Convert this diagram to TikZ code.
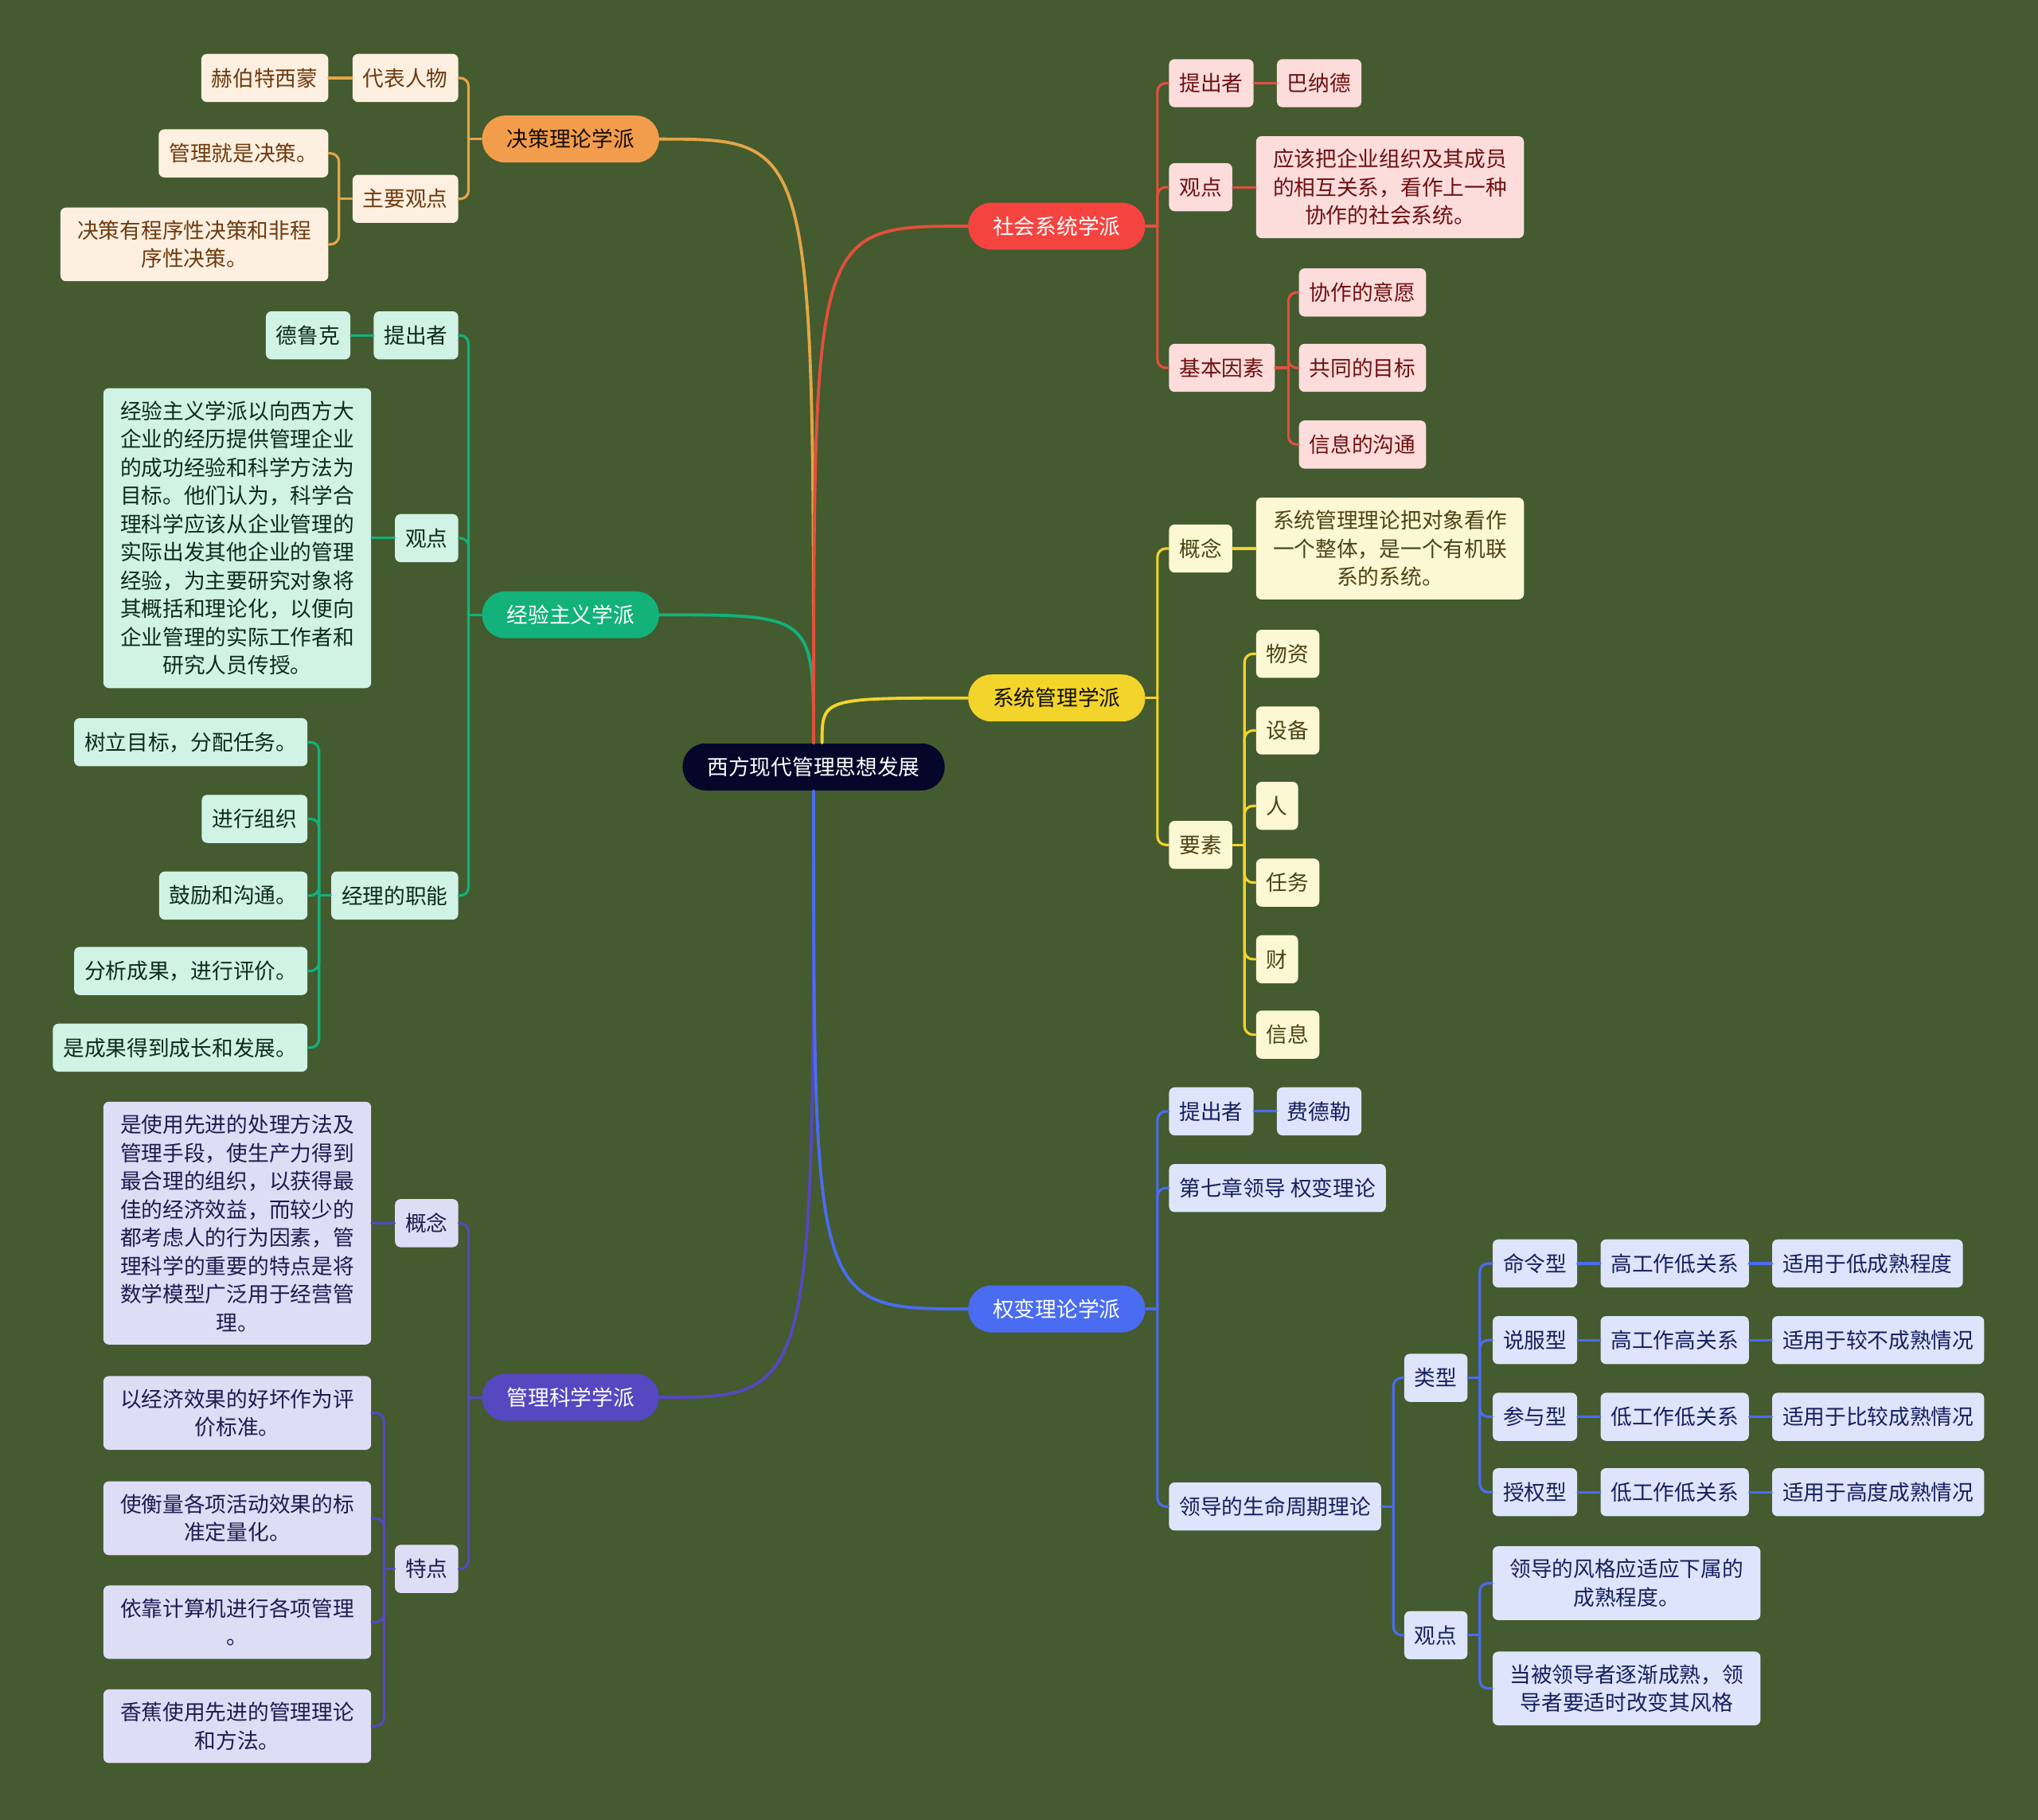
\documentclass[tikz,border=0pt]{standalone}
\usepackage{fontspec}
\setmainfont{Noto Sans CJK SC}
\usepackage{tikz}
\definecolor{mmbg}{HTML}{445A2F}
\definecolor{mmroot}{HTML}{05062A}
\definecolor{mmor}{HTML}{F29D4B}
\definecolor{mmorl}{HTML}{E2A646}
\definecolor{mmorf}{HTML}{FEF0E1}
\definecolor{mmort}{HTML}{6E3A0E}
\definecolor{mmre}{HTML}{F5443F}
\definecolor{mmrel}{HTML}{E2503C}
\definecolor{mmref}{HTML}{FDDCDC}
\definecolor{mmret}{HTML}{6E1010}
\definecolor{mmgr}{HTML}{12B27A}
\definecolor{mmgrf}{HTML}{D0F3E5}
\definecolor{mmgrt}{HTML}{0F2A1E}
\definecolor{mmye}{HTML}{F2D42A}
\definecolor{mmyef}{HTML}{FDF8D4}
\definecolor{mmyet}{HTML}{4D4215}
\definecolor{mmpu}{HTML}{5548C0}
\definecolor{mmpuf}{HTML}{DEDDF6}
\definecolor{mmput}{HTML}{1E1B50}
\definecolor{mmbl}{HTML}{4A6CF0}
\definecolor{mmblf}{HTML}{DDE4FB}
\definecolor{mmblt}{HTML}{152060}

\begin{document}
\begin{tikzpicture}[x=0.01633cm,y=-0.01633cm,
  txt/.style={font=\fontsize{7.6}{10.1}\selectfont},
  pill/.style={txt,rounded corners=0.29cm,minimum height=0.59cm,inner xsep=0.31cm,inner ysep=0pt},
  box/.style={txt,rounded corners=2pt,minimum height=0.604cm,inner xsep=0.13cm,inner ysep=4.6pt,align=center},
  wide/.style={minimum width=3.364cm},
  link/.style={line width=0.9pt,rounded corners=3pt,line cap=round},
  trunk/.style={line width=1.1pt,line cap=round},
  orbox/.style={box,fill=mmorf,text=mmort}, orl/.style={link,draw=mmorl},
  rebox/.style={box,fill=mmref,text=mmret}, rel/.style={link,draw=mmrel},
  grbox/.style={box,fill=mmgrf,text=mmgrt}, grl/.style={link,draw=mmgr},
  yebox/.style={box,fill=mmyef,text=mmyet}, yel/.style={link,draw=mmye},
  pubox/.style={box,fill=mmpuf,text=mmput}, pul/.style={link,draw=mmpu},
  blbox/.style={box,fill=mmblf,text=mmblt}, bll/.style={link,draw=mmbl}]
  \fill[mmbg] (0,0) rectangle (1568,1400);

  % centre and schools
  \node[pill,fill=mmroot,text=white] (root) at (626,590) {西方现代管理思想发展};
  \node[pill,fill=mmor,text=black!80!mmort] (jc) at (439,107) {决策理论学派};
  \node[pill,fill=mmgr,text=white] (jy) at (439,473) {经验主义学派};
  \node[pill,fill=mmpu,text=white] (gk) at (439,1075) {管理科学学派};
  \node[pill,fill=mmre,text=white] (sh) at (813,174) {社会系统学派};
  \node[pill,fill=mmye,text=black!80!mmyet] (xt) at (813,537) {系统管理学派};
  \node[pill,fill=mmbl,text=white] (qb) at (813,1007) {权变理论学派};

  \draw[trunk,mmorl] (root.north) .. controls (root.north |- jc.east) .. (jc.east);
  \draw[trunk,mmgr] (root.north) .. controls (root.north |- jy.east) .. (jy.east);
  \draw[trunk,mmrel] (root.north) .. controls (root.north |- sh.west) .. (sh.west);
  \draw[trunk,mmye] ([xshift=3pt]root.north) .. controls ([xshift=3pt]root.north |- xt.west) .. (xt.west);
  \draw[trunk,mmpu] (root.south) .. controls (root.south |- gk.east) .. (gk.east);
  \draw[trunk,mmbl] (root.south) .. controls (root.south |- qb.west) .. (qb.west);

  % 决策理论学派
  \node[orbox,anchor=east] (jcA) at (353,60) {代表人物};
  \node[orbox,anchor=east] (jcA1) at (253,60) {赫伯特西蒙};
  \node[orbox,anchor=east] (jcB) at (353,153) {主要观点};
  \node[orbox,anchor=east] (jcB1) at (253,118) {管理就是决策。};
  \node[orbox,wide,anchor=east] (jcB2) at (253,188) {决策有程序性决策和非程\\序性决策。};
  \draw[orl] (jc.west) -- ++(-10,0) coordinate (jcb);
  \draw[orl] (jcB.west) -- ++(-10,0) coordinate (jcBb);
  \draw[orl] (jcA.east) -| (jcb);
  \draw[orl] (jcB.east) -| (jcb);
  \draw[orl] (jcA.west) -- (jcA1.east);
  \draw[orl] (jcB1.east) -| (jcBb);
  \draw[orl] (jcB2.east) -| (jcBb);

  % 经验主义学派
  \node[grbox,anchor=east] (jyA) at (353,258) {提出者};
  \node[grbox,anchor=east] (jyA1) at (270,258) {德鲁克};
  \node[grbox,anchor=east] (jyB) at (353,414) {观点};
  \node[grbox,wide,anchor=east] (jyB1) at (286,414) {经验主义学派以向西方大\\企业的经历提供管理企业\\的成功经验和科学方法为\\目标。他们认为，科学合\\理科学应该从企业管理的\\实际出发其他企业的管理\\经验，为主要研究对象将\\其概括和理论化，以便向\\企业管理的实际工作者和\\研究人员传授。};
  \node[grbox,anchor=east] (jyC) at (353,689) {经理的职能};
  \draw[grl] (jy.west) -- ++(-10,0) coordinate (jyb);
  \draw[grl] (jyC.west) -- ++(-9,0) coordinate (jyCb);
  \draw[grl] (jyA.east) -| (jyb);
  \draw[grl] (jyB.east) -| (jyb);
  \draw[grl] (jyC.east) -| (jyb);
  \draw[grl] (jyA.west) -- (jyA1.east);
  \draw[grl] (jyB.west) -- (jyB1.east);
  \foreach \i/\y/\t in {1/571/树立目标，分配任务。,2/630/进行组织,3/689/鼓励和沟通。,4/747/分析成果，进行评价。,5/806/是成果得到成长和发展。}{
    \node[grbox,anchor=east] (jyC\i) at (237,\y) {\t};
    \draw[grl] (jyC\i.east) -| (jyCb);
  }

  % 管理科学学派
  \node[pubox,anchor=east] (gkA) at (353,941) {概念};
  \node[pubox,wide,anchor=east] (gkA1) at (286,941) {是使用先进的处理方法及\\管理手段，使生产力得到\\最合理的组织，以获得最\\佳的经济效益，而较少的\\都考虑人的行为因素，管\\理科学的重要的特点是将\\数学模型广泛用于经营管\\理。};
  \node[pubox,anchor=east] (gkB) at (353,1207) {特点};
  \draw[pul] (gk.west) -- ++(-10,0) coordinate (gkb);
  \draw[pul] (gkB.west) -- ++(-8,0) coordinate (gkBb);
  \draw[pul] (gkA.east) -| (gkb);
  \draw[pul] (gkB.east) -| (gkb);
  \draw[pul] (gkA.west) -- (gkA1.east);
  \foreach \i/\y/\t in {1/1087/以经济效果的好坏作为评\\价标准。,2/1168/使衡量各项活动效果的标\\准定量化。,3/1248/依靠计算机进行各项管理\\。,4/1328/香蕉使用先进的管理理论\\和方法。}{
    \node[pubox,wide,anchor=east] (gkB\i) at (286,\y) {\t};
    \draw[pul] (gkB\i.east) -| (gkBb);
  }

  % 社会系统学派
  \node[rebox,anchor=west] (shA) at (899,64) {提出者};
  \node[rebox,anchor=west] (shA1) at (982,64) {巴纳德};
  \node[rebox,anchor=west] (shB) at (899,144) {观点};
  \node[rebox,wide,anchor=west] (shB1) at (966,144) {应该把企业组织及其成员\\的相互关系，看作上一种\\协作的社会系统。};
  \node[rebox,anchor=west] (shC) at (899,283) {基本因素};
  \draw[rel] (sh.east) -- ++(9,0) coordinate (shb);
  \draw[rel] (shC.east) -- ++(10,0) coordinate (shCb);
  \draw[rel] (shA.west) -| (shb);
  \draw[rel] (shB.west) -| (shb);
  \draw[rel] (shC.west) -| (shb);
  \draw[rel] (shA.east) -- (shA1.west);
  \draw[rel] (shB.east) -- (shB1.west);
  \foreach \i/\y/\t in {1/225/协作的意愿,2/283/共同的目标,3/342/信息的沟通}{
    \node[rebox,anchor=west] (shC\i) at (999,\y) {\t};
    \draw[rel] (shC\i.west) -| (shCb);
  }

  % 系统管理学派
  \node[yebox,anchor=west] (xtA) at (899,422) {概念};
  \node[yebox,wide,anchor=west] (xtA1) at (966,422) {系统管理理论把对象看作\\一个整体，是一个有机联\\系的系统。};
  \node[yebox,anchor=west] (xtB) at (899,650) {要素};
  \draw[yel] (xt.east) -- ++(9,0) coordinate (xtb);
  \draw[yel] (xtB.east) -- ++(9,0) coordinate (xtBb);
  \draw[yel] (xtA.west) -| (xtb);
  \draw[yel] (xtB.west) -| (xtb);
  \draw[yel] (xtA.east) -- (xtA1.west);
  \foreach \i/\y/\t in {1/503/物资,2/562/设备,3/620/人,4/679/任务,5/738/财,6/796/信息}{
    \node[yebox,anchor=west] (xtB\i) at (966,\y) {\t};
    \draw[yel] (xtB\i.west) -| (xtBb);
  }

  % 权变理论学派
  \node[blbox,anchor=west] (qbA) at (899,855) {提出者};
  \node[blbox,anchor=west] (qbA1) at (982,855) {费德勒};
  \node[blbox,anchor=west] (qbB) at (899,914) {第七章领导 权变理论};
  \node[blbox,anchor=west] (qbC) at (899,1159) {领导的生命周期理论};
  \node[blbox,anchor=west] (qbC1) at (1080,1060) {类型};
  \node[blbox,anchor=west] (qbC2) at (1080,1258) {观点};
  \draw[bll] (qb.east) -- ++(9,0) coordinate (qbb);
  \draw[bll] (qbC.east) -- ++(9,0) coordinate (qbCb);
  \draw[bll] (qbC1.east) -- ++(9,0) coordinate (lxb);
  \draw[bll] (qbC2.east) -- ++(9,0) coordinate (gdb);
  \draw[bll] (qbA.west) -| (qbb);
  \draw[bll] (qbB.west) -| (qbb);
  \draw[bll] (qbC.west) -| (qbb);
  \draw[bll] (qbA.east) -- (qbA1.west);
  \draw[bll] (qbC1.west) -| (qbCb);
  \draw[bll] (qbC2.west) -| (qbCb);
  \foreach \i/\y/\a/\b/\c in {1/972/命令型/高工作低关系/适用于低成熟程度,2/1031/说服型/高工作高关系/适用于较不成熟情况,3/1090/参与型/低工作低关系/适用于比较成熟情况,4/1148/授权型/低工作低关系/适用于高度成熟情况}{
    \node[blbox,anchor=west] (lx\i) at (1148,\y) {\a};
    \node[blbox,anchor=west] (gx\i) at (1231,\y) {\b};
    \node[blbox,anchor=west] (sy\i) at (1363,\y) {\c};
    \draw[bll] (lx\i.west) -| (lxb);
    \draw[bll] (lx\i.east) -- (gx\i.west);
    \draw[bll] (gx\i.east) -- (sy\i.west);
  }
  \node[blbox,wide,anchor=west] (gd1) at (1148,1218) {领导的风格应适应下属的\\成熟程度。};
  \node[blbox,wide,anchor=west] (gd2) at (1148,1299) {当被领导者逐渐成熟，领\\导者要适时改变其风格};
  \draw[bll] (gd1.west) -| (gdb);
  \draw[bll] (gd2.west) -| (gdb);
\end{tikzpicture}
\end{document}
